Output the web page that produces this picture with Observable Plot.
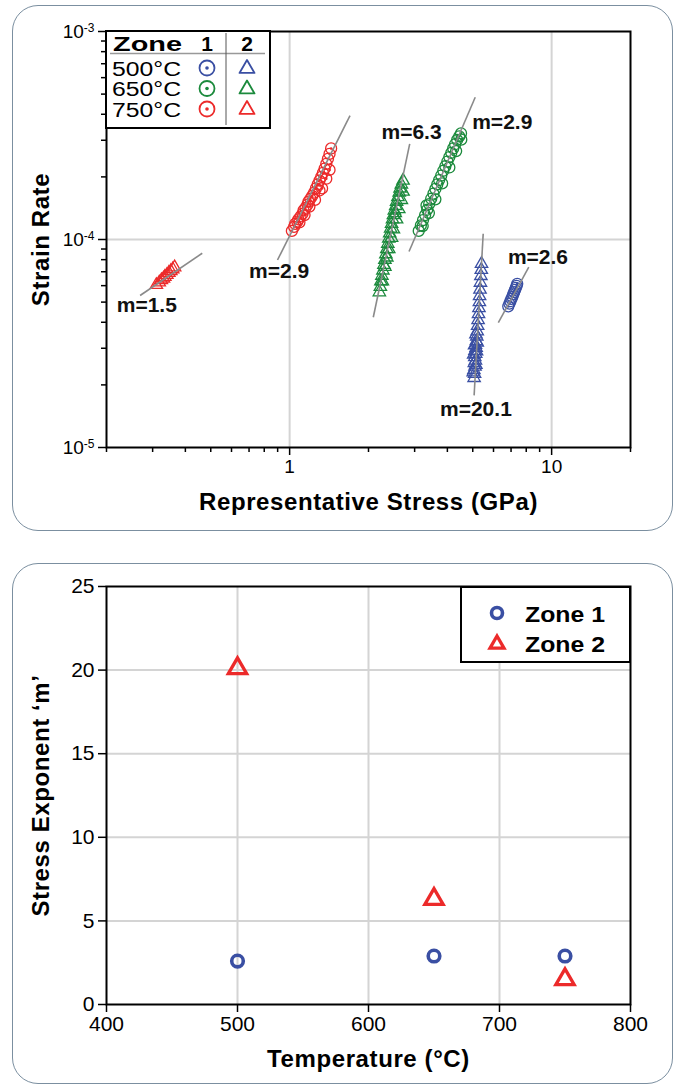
<!DOCTYPE html>
<html><head><meta charset="utf-8">
<script src="https://cdn.jsdelivr.net/npm/d3@7"></script>
<script src="https://cdn.jsdelivr.net/npm/@observablehq/plot@0.6"></script>
<style>
body{margin:0;background:#fff;font-family:"Liberation Sans",Arial,sans-serif;}
#wrap{position:relative;width:673px;height:1086px;overflow:hidden;background:#fff;}
.panel{position:absolute;border:1.5px solid #7b8fa0;border-radius:26px;box-sizing:border-box;}
.abs{position:absolute;}
</style></head><body><div id="wrap">
<div class="panel" style="left:12px;top:5px;width:661px;height:526px"></div>
<div class="panel" style="left:12px;top:563px;width:661px;height:521px"></div>
<div id="p1" class="abs" style="left:0;top:0"></div>
<div id="p2" class="abs" style="left:0;top:555px"></div>
</div>
<script>
// ---------- Top chart data: [stress GPa, strain rate] ----------
const c500z1 = [[6.83,4.77e-5],[6.90,4.92e-5],[6.96,5.05e-5],[7.02,5.18e-5],[7.08,5.30e-5],[7.13,5.45e-5],[7.19,5.58e-5],[7.25,5.72e-5],[7.30,5.86e-5],[7.35,5.98e-5],[7.39,6.12e-5]];
const c500z2 = [[5.06,2.16e-5],[5.08,2.26e-5],[5.05,2.36e-5],[5.10,2.45e-5],[5.07,2.55e-5],[5.12,2.62e-5],[5.09,2.72e-5],[5.13,2.82e-5],[5.10,2.92e-5],[5.15,3.02e-5],[5.12,3.12e-5],[5.16,3.25e-5],[5.18,3.42e-5],[5.20,3.62e-5],[5.22,3.85e-5],[5.24,4.10e-5],[5.26,4.38e-5],[5.28,4.68e-5],[5.30,5.00e-5],[5.31,5.35e-5],[5.33,5.75e-5],[5.35,6.20e-5],[5.37,6.68e-5],[5.39,7.15e-5],[5.40,7.64e-5],
  [5.02,2.30e-5],[5.14,2.50e-5],[5.04,2.80e-5],[5.17,2.90e-5],[5.08,3.10e-5],[5.20,3.20e-5],[5.14,3.50e-5]];
const c650z1 = [[3.11,1.10e-4],[3.17,1.17e-4],[3.23,1.24e-4],[3.29,1.31e-4],[3.35,1.39e-4],[3.33,1.46e-4],[3.41,1.48e-4],[3.47,1.57e-4],[3.54,1.66e-4],[3.60,1.75e-4],[3.66,1.84e-4],[3.72,1.93e-4],[3.79,2.03e-4],[3.86,2.14e-4],[3.93,2.25e-4],[4.00,2.37e-4],[4.07,2.49e-4],[4.14,2.61e-4],[4.21,2.74e-4],[4.28,2.87e-4],[4.36,3.01e-4],[4.44,3.13e-4],[4.51,3.24e-4],
  [3.22,1.16e-4],[3.40,1.34e-4],[3.60,1.56e-4],[3.82,1.86e-4],[4.07,2.22e-4],[4.32,2.66e-4],[4.52,3.02e-4]];
const c650z2 = [[2.20,5.58e-5],[2.22,5.92e-5],[2.23,6.30e-5],[2.25,6.70e-5],[2.27,7.10e-5],[2.29,7.55e-5],[2.31,8.00e-5],[2.33,8.50e-5],[2.35,9.00e-5],[2.37,9.55e-5],[2.39,1.01e-4],[2.41,1.07e-4],[2.43,1.13e-4],[2.45,1.19e-4],[2.47,1.25e-4],[2.49,1.31e-4],[2.53,1.34e-4],[2.51,1.38e-4],[2.54,1.45e-4],[2.56,1.52e-4],[2.59,1.60e-4],[2.62,1.68e-4],[2.64,1.76e-4],[2.67,1.84e-4],[2.71,1.92e-4],
  [2.26,6.30e-5],[2.31,7.40e-5],[2.35,8.20e-5],[2.39,9.00e-5],[2.45,1.02e-4],[2.49,1.12e-4],[2.56,1.25e-4],[2.61,1.40e-4],[2.67,1.55e-4],[2.71,1.70e-4]];
const c750z1 = [[1.02,1.10e-4],[1.04,1.15e-4],[1.05,1.19e-4],[1.07,1.22e-4],[1.08,1.25e-4],[1.10,1.29e-4],[1.12,1.33e-4],[1.13,1.38e-4],[1.15,1.42e-4],[1.17,1.47e-4],[1.18,1.52e-4],[1.20,1.57e-4],[1.22,1.62e-4],[1.24,1.68e-4],[1.30,1.72e-4],[1.26,1.76e-4],[1.28,1.84e-4],[1.30,1.92e-4],[1.32,2.00e-4],[1.34,2.09e-4],[1.36,2.19e-4],[1.38,2.31e-4],[1.40,2.44e-4],[1.42,2.58e-4],[1.44,2.74e-4],
  [1.09,1.21e-4],[1.14,1.31e-4],[1.19,1.44e-4],[1.25,1.55e-4],[1.33,1.76e-4],[1.38,1.96e-4],[1.42,2.16e-4]];
const c750z2 = [[0.310,6.05e-5],[0.318,6.22e-5],[0.324,6.38e-5],[0.330,6.50e-5],[0.334,6.62e-5],[0.340,6.76e-5],[0.346,6.92e-5],[0.352,7.05e-5],[0.358,7.20e-5],[0.364,7.35e-5]];
// fitted lines: [x1, y1, x2, y2]
const fitLines = [[6.26,3.98e-5,8.18,7.36e-5],[5.06,1.78e-5,5.48,1.065e-4],[2.856,8.76e-5,5.11,4.83e-4],[2.086,4.23e-5,2.873,2.88e-4],[0.899,7.97e-5,1.70,3.94e-4],[0.2687,5.38e-5,0.464,8.59e-5]];
const mLabels = [["m=2.6",8.87,8.22e-5],["m=20.1",5.14,1.53e-5],["m=2.9",6.48,3.66e-4],["m=6.3",2.92,3.28e-4],["m=2.9",0.912,7.05e-5],["m=1.5",0.285,4.82e-5]];
const xMajor = [1,10];
const xMinor = [0.2,0.3,0.4,0.5,0.6,0.7,0.8,0.9,2,3,4,5,6,7,8,9,20];
const yMajor = [1e-5,1e-4,1e-3];
const yMinor = [2e-5,3e-5,4e-5,5e-5,6e-5,7e-5,8e-5,9e-5,2e-4,3e-4,4e-4,5e-4,6e-4,7e-4,8e-4,9e-4];
const legendTemps = ["500°C","650°C","750°C"];
// ---------- Bottom chart data ----------
const temps = [500,650,750];
const mZone1 = [2.6,2.9,2.9];
const mZone2 = [20.1,6.3,1.5];
const tempTicks = [400,500,600,700,800];
const mTicks = [0,5,10,15,20,25];

const BLUE="#3a4fa3", GREEN="#1b8a3c", RED="#ec2a2a";
const FONT = '"Liberation Sans", Arial, sans-serif';

function clusterMarks(data, color, tri){
  const acc = {x:d=>d[0], y:d=>d[1]};
  if (tri) return [Plot.dot(data,{...acc, symbol:"triangle", r:4.6, stroke:color, strokeWidth:1.3, fill:"none"})];
  return [Plot.dot(data,{...acc, symbol:"circle", r:5.5, stroke:color, strokeWidth:1.3, fill:"none"}),
          Plot.dot(data,{...acc, r:1.3, fill:color, stroke:null})];
}

const p1 = Plot.plot({
  width:673, height:540,
  marginLeft:106, marginRight:43, marginTop:31, marginBottom:93,
  style:{fontFamily:FONT, fontSize:"19px", color:"#000", background:"transparent"},
  x:{type:"log", domain:[0.2,20], axis:null},
  y:{type:"log", domain:[1e-5,1e-3], axis:null},
  marks:[
    Plot.gridX(xMajor,{stroke:"#d4d4d4", strokeWidth:2, strokeOpacity:1}),
    Plot.gridY([1e-4],{stroke:"#d4d4d4", strokeWidth:2, strokeOpacity:1}),
    ...clusterMarks(c500z1,BLUE,false),
    ...clusterMarks(c500z2,BLUE,true),
    ...clusterMarks(c650z1,GREEN,false),
    ...clusterMarks(c650z2,GREEN,true),
    ...clusterMarks(c750z1,RED,false),
    ...clusterMarks(c750z2,RED,true),
    Plot.link(fitLines,{x1:d=>d[0],y1:d=>d[1],x2:d=>d[2],y2:d=>d[3], stroke:"#8a8a8a", strokeWidth:1.6}),
    Plot.text(mLabels,{x:d=>d[1],y:d=>d[2],text:d=>d[0], fontSize:21, fontWeight:"bold", fill:"#111", textAnchor:"middle"}),
    Plot.axisX(xMinor,{tickSize:5, tickFormat:()=>"", strokeWidth:1.5, label:null}),
    Plot.axisX(xMajor,{tickSize:8, tickPadding:4, strokeWidth:1.5, fontSize:19, tickFormat:d=>String(d), label:"Representative Stress (GPa)", labelAnchor:"center", labelArrow:"none", labelOffset:62}),
    Plot.axisY(yMinor,{tickSize:5, tickFormat:()=>"", strokeWidth:1.5, label:null}),
    Plot.axisY(yMajor,{tickSize:8, tickPadding:4, strokeWidth:1.5, fontSize:19, tickFormat:d=>"10^"+Math.round(Math.log10(d)), label:"Strain Rate", labelAnchor:"center", labelArrow:"none", labelOffset:75}),
    Plot.frame({stroke:"#000", strokeWidth:2})
  ]
});
document.getElementById("p1").append(p1);

const p2 = Plot.plot({
  width:673, height:531,
  marginLeft:106, marginRight:43, marginTop:31, marginBottom:82,
  style:{fontFamily:FONT, fontSize:"21px", color:"#000", background:"transparent"},
  x:{domain:[400,800], axis:null},
  y:{domain:[0,25], axis:null},
  marks:[
    Plot.gridX([500,600,700],{stroke:"#d4d4d4", strokeWidth:2, strokeOpacity:1}),
    Plot.gridY([5,10,15,20],{stroke:"#d4d4d4", strokeWidth:2, strokeOpacity:1}),
    Plot.dot(temps,{x:d=>d, y:(d,i)=>mZone1[i], symbol:"circle", r:5.8, stroke:BLUE, strokeWidth:3.6, fill:"none"}),
    Plot.dot(temps,{x:d=>d, y:(d,i)=>mZone2[i], symbol:"triangle", r:6.8, stroke:RED, strokeWidth:3.3, fill:"none"}),
    Plot.axisX(tempTicks,{tickSize:8, tickPadding:4, strokeWidth:1.5, fontSize:21, label:"Temperature (°C)", labelAnchor:"center", labelArrow:"none", labelOffset:62}),
    Plot.axisY(mTicks,{tickSize:8, tickPadding:4, strokeWidth:1.5, fontSize:21, label:"Stress Exponent ‘m’", labelAnchor:"center", labelArrow:"none", labelOffset:75}),
    Plot.frame({stroke:"#000", strokeWidth:2})
  ]
});
document.getElementById("p2").append(p2);

// superscript exponents on log tick labels
d3.select(p1).selectAll("text").each(function(){
  const t = this.textContent;
  if (/^10\^-?\d+$/.test(t)) {
    const exp = t.split("^")[1];
    const sel = d3.select(this);
    sel.text("10");
    sel.append("tspan").attr("dy","-0.45em").style("font-size","12px").text(exp);
  }
});
function boldTitles(svg, titles){
  d3.select(svg).selectAll("text").each(function(){
    if (titles.includes(this.textContent)) d3.select(this).attr("font-weight","bold").style("font-size","24px").attr("letter-spacing","0.6px");
  });
}
boldTitles(p1,["Representative Stress (GPa)","Strain Rate"]);
boldTitles(p2,["Temperature (°C)","Stress Exponent ‘m’"]);

// ---------- Legends (SVG overlays) ----------
const NS="http://www.w3.org/2000/svg";
function mk(parent, tag, attrs, text){ const e=document.createElementNS(NS,tag); for(const k in attrs) e.setAttribute(k,attrs[k]); if(text!=null) e.textContent=text; parent.appendChild(e); return e; }
function triPath(cx,cy,s){ const h=s*0.866; return `M${cx},${cy-h*0.62}L${cx+s/2},${cy+h*0.38}L${cx-s/2},${cy+h*0.38}Z`; }

const wrap = document.getElementById("wrap");
const leg1 = mk(wrap,"svg",{width:166,height:99,style:"position:absolute;left:105px;top:30px;overflow:visible"});
mk(leg1,"rect",{x:1,y:1,width:164,height:97,fill:"#fff",stroke:"#000","stroke-width":2});
mk(leg1,"text",{x:8,y:21,"font-family":FONT,"font-size":21,"font-weight":"bold",textLength:69,lengthAdjust:"spacingAndGlyphs"},"Zone");
mk(leg1,"text",{x:102,y:21,"font-family":FONT,"font-size":21,"font-weight":"bold","text-anchor":"middle"},"1");
mk(leg1,"text",{x:142,y:21,"font-family":FONT,"font-size":21,"font-weight":"bold","text-anchor":"middle"},"2");
mk(leg1,"line",{x1:5,x2:160,y1:23.5,y2:23.5,stroke:"#999","stroke-width":1.5});
mk(leg1,"line",{x1:121,x2:121,y1:3,y2:95,stroke:"#555","stroke-width":1});
const legColors = [BLUE,GREEN,RED];
const legBase = [45.5,66,86.5];
legendTemps.forEach((lab,i)=>{
  const col = legColors[i], by = legBase[i];
  mk(leg1,"text",{x:7,y:by,"font-family":FONT,"font-size":20,textLength:69,lengthAdjust:"spacingAndGlyphs"},lab);
  mk(leg1,"circle",{cx:102,cy:by-7.5,r:7.5,fill:"none",stroke:col,"stroke-width":1.8});
  mk(leg1,"circle",{cx:102,cy:by-7.5,r:1.8,fill:col});
  mk(leg1,"path",{d:triPath(142,by-7.5,15),fill:"none",stroke:col,"stroke-width":1.8,"stroke-linejoin":"round"});
});

const leg2 = mk(wrap,"svg",{width:171,height:77,style:"position:absolute;left:460px;top:586px;overflow:visible"});
mk(leg2,"rect",{x:1,y:1,width:169,height:75,fill:"#fff",stroke:"#000","stroke-width":2});
mk(leg2,"circle",{cx:37,cy:27,r:5.5,fill:"none",stroke:BLUE,"stroke-width":3.6});
mk(leg2,"path",{d:triPath(37,57.5,14),fill:"none",stroke:RED,"stroke-width":3.3});
mk(leg2,"text",{x:65,y:36,"font-family":FONT,"font-size":22,"font-weight":"bold",textLength:80,lengthAdjust:"spacingAndGlyphs"},"Zone 1");
mk(leg2,"text",{x:65,y:66,"font-family":FONT,"font-size":22,"font-weight":"bold",textLength:80,lengthAdjust:"spacingAndGlyphs"},"Zone 2");
</script>
</body></html>
